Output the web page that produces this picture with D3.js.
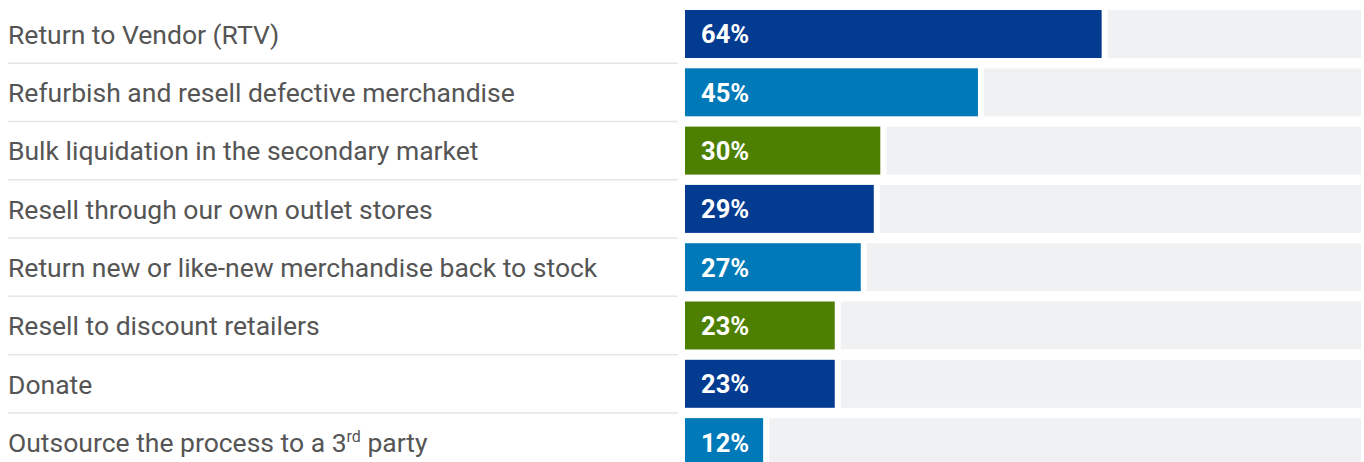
<!DOCTYPE html>
<html>
<head>
<meta charset="utf-8">
<script src="https://cdn.jsdelivr.net/npm/d3@7/dist/d3.min.js"></script>
<style>
  html, body { margin: 0; padding: 0; background: #ffffff; }
  svg { display: block; }
</style>
</head>
<body>
<svg id="chart" width="1364" height="462"></svg>
<script>
// Disposition methods for returned merchandise (share of respondents, %)
const categories = [
  "Return to Vendor (RTV)",
  "Refurbish and resell defective merchandise",
  "Bulk liquidation in the secondary market",
  "Resell through our own outlet stores",
  "Return new or like-new merchandise back to stock",
  "Resell to discount retailers",
  "Donate",
  "Outsource the process to a 3rd party"
];
const values = [64, 45, 30, 29, 27, 23, 23, 12];
const barColors = ["#033b91", "#0079b8", "#4d7f00", "#033b91", "#0079b8", "#4d7f00", "#033b91", "#0079b8"];

const W = 1364, H = 462;
const svg = d3.select("#chart");

const y = d3.scaleBand()
  .domain(categories)
  .range([4.85, 4.85 + 8 * 58.3])
  .paddingInner(0.177)
  .paddingOuter(0.0885);

const x = d3.scaleLinear().domain([0, 100]).range([685, 1336]);
const trackEnd = 1361;
const gap = 6;

const rows = svg.selectAll("g.row")
  .data(categories.map((c, i) => ({ c, v: values[i], color: barColors[i], i })))
  .join("g")
  .attr("class", "row");

// remaining track
rows.append("rect")
  .attr("x", d => x(d.v) + gap)
  .attr("y", d => y(d.c))
  .attr("width", d => trackEnd - x(d.v) - gap)
  .attr("height", y.bandwidth())
  .attr("fill", "#f0f1f3");

// value bar
rows.append("rect")
  .attr("x", x(0))
  .attr("y", d => y(d.c))
  .attr("width", d => x(d.v) - x(0))
  .attr("height", y.bandwidth())
  .attr("fill", d => d.color);

// value label
rows.append("text")
  .attr("x", x(0) + 16)
  .attr("y", d => y(d.c) + y.bandwidth() / 2)
  .attr("dy", "0.37em")
  .attr("fill", "#ffffff")
  .style("font-family", "Roboto, sans-serif")
  .style("font-weight", "700")
  .style("font-size", "25.5px")
  .text(d => d.v + "%");

// category label, with ordinal suffix raised
rows.append("text")
  .attr("x", 8)
  .attr("y", d => y(d.c) + y.bandwidth() / 2)
  .attr("dy", "0.37em")
  .attr("fill", "#555555")
  .style("font-family", "Roboto, sans-serif")
  .style("font-size", "26.5px")
  .each(function (d) {
    const t = d3.select(this);
    const m = d.c.match(/^(.*\d)(st|nd|rd|th)(\b.*)$/);
    if (m) {
      t.append("tspan").text(m[1]);
      t.append("tspan").attr("dy", -10).style("font-size", "16px").text(m[2]);
      t.append("tspan").attr("dy", 10).text(m[3]);
    } else {
      t.text(d.c);
    }
  });

// row separators in the label column
svg.selectAll("line.sep")
  .data(categories.slice(1))
  .join("line")
  .attr("class", "sep")
  .attr("x1", 8)
  .attr("x2", 678)
  .attr("y1", d => y(d) - (y.step() - y.bandwidth()) / 2)
  .attr("y2", d => y(d) - (y.step() - y.bandwidth()) / 2)
  .attr("stroke", "#e6e6e6")
  .attr("stroke-width", 1.5);
</script>
</body>
</html>
